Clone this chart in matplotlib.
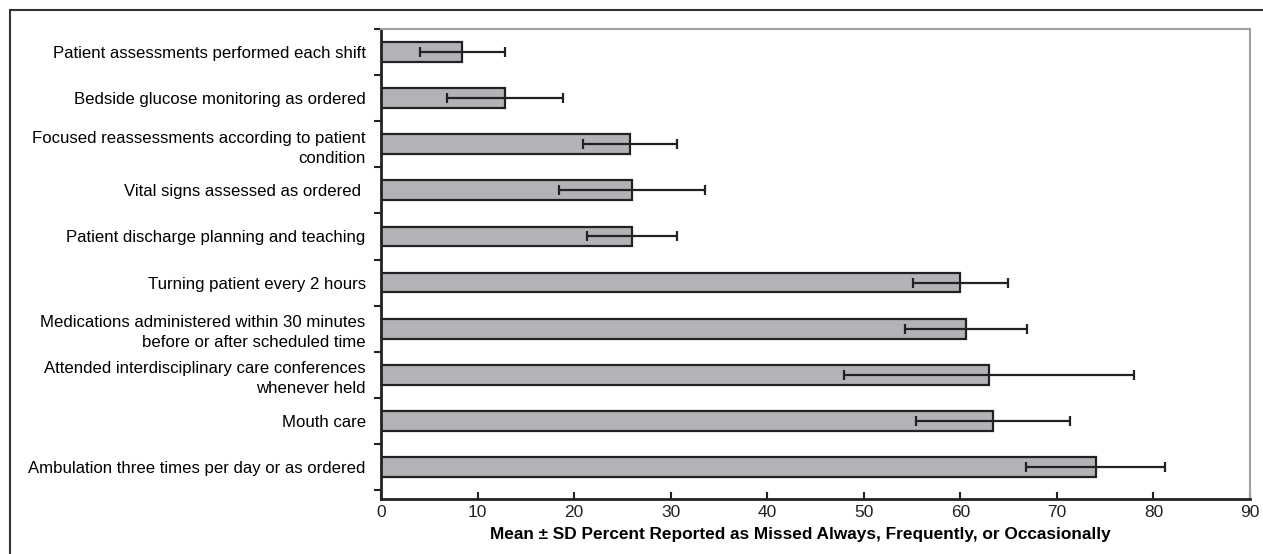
import numpy as np
import matplotlib
matplotlib.use("Agg")
import matplotlib.pyplot as plt
from matplotlib.patches import Rectangle

plt.rcParams['font.family'] = ['Liberation Sans', 'DejaVu Sans']

# data
items = [
    "Patient assessments performed each shift",
    "Bedside glucose monitoring as ordered",
    "Focused reassessments according to patient\ncondition",
    "Vital signs assessed as ordered ",
    "Patient discharge planning and teaching",
    "Turning patient every 2 hours",
    "Medications administered within 30 minutes\nbefore or after scheduled time",
    "Attended interdisciplinary care conferences\nwhenever held",
    "Mouth care",
    "Ambulation three times per day or as ordered",
]
means = [8.4, 12.8, 25.8, 26.0, 26.0, 60.0, 60.6, 63.0, 63.4, 74.0]
sds = [4.4, 6.0, 4.9, 7.6, 4.7, 4.9, 6.3, 15.0, 8.0, 7.2]
xticks = [0, 10, 20, 30, 40, 50, 60, 70, 80, 90]
xlabel = "Mean \u00b1 SD Percent Reported as Missed Always, Frequently, or Occasionally"

fig = plt.figure(figsize=(12.63, 5.54), dpi=100)
ax = fig.add_axes([381/1263, 1-499/554, (1250-381)/1263, (499-29)/554])

# outer frame of the figure panel
fig.patches.append(Rectangle((10/1263, -0.1), 1.2, (554-10)/554 + 0.1,
                             transform=fig.transFigure, fill=False,
                             edgecolor='#333333', linewidth=1.5))

y = np.arange(len(items))
ax.barh(y, means, height=0.43, color='#b2b3b7', edgecolor='#222222', linewidth=1.6, zorder=2)
ax.errorbar(means, y, xerr=sds, fmt='none', ecolor='#222222', elinewidth=1.6,
            capsize=3.5, capthick=1.6, zorder=3)

ax.set_xlim(0, 90)
ax.set_ylim(len(items)-0.5+0.195, -0.5)
ax.set_xticks(xticks)
ax.set_xticklabels([str(t) for t in xticks], fontsize=12.5,
                   family=['Liberation Sans Narrow', 'Liberation Sans'])
ax.tick_params(axis='x', direction='in', length=5, width=1.5, pad=4, colors='#222222')

# ticks between categories, labels at category centres
ax.set_yticks(np.arange(-0.5, len(items)), minor=False)
ax.set_yticklabels([])
ax.set_yticks(y, minor=True)
ax.set_yticklabels(items, minor=True, fontsize=12.1, linespacing=1.4)
ax.tick_params(axis='y', which='major', direction='out', length=5, width=1.5, colors='#222222')
ax.tick_params(axis='y', which='minor', length=0, pad=11)

for s in ['left', 'bottom']:
    ax.spines[s].set_color('#222222')
    ax.spines[s].set_linewidth(2)
for s in ['top', 'right']:
    ax.spines[s].set_color('#a0a0a0')
    ax.spines[s].set_linewidth(1.5)

ax.set_xlabel(xlabel, fontsize=12.4, fontweight='bold', labelpad=5,
              family=['Liberation Sans Narrow', 'Liberation Sans'])
ax.xaxis.label.set_x(0.483)

fig.savefig("out.png", dpi=100)
